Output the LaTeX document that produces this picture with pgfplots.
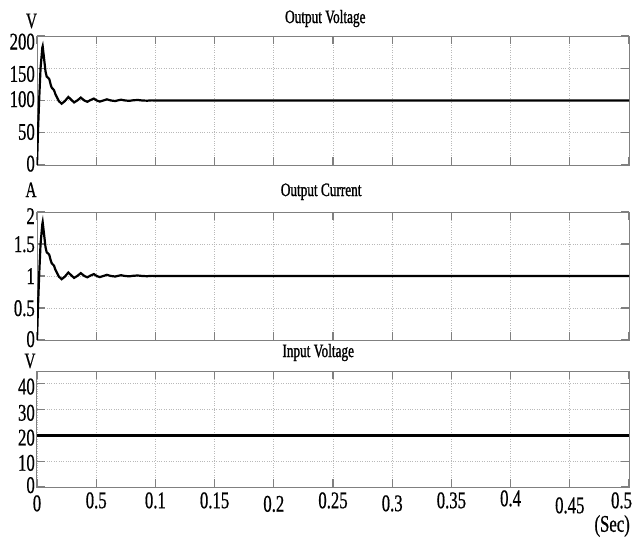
\documentclass[border=0pt]{standalone}
\usepackage{pgfplots}
\pgfplotsset{compat=1.18}
\usepackage{fontspec}
\setmainfont{Liberation Serif}[FakeStretch=0.7, FakeBold=0.6]
\newfontfamily\ttlfont{Liberation Serif}[FakeStretch=0.7, FakeBold=1.2]
\newcommand{\tk}{\fontsize{24}{24}\selectfont}
\newcommand{\ttl}{\ttlfont\fontsize{19}{19}\selectfont}
\newcommand{\unit}{\fontsize{22}{22}\selectfont}
\newcommand{\xl}[2]{\raisebox{#1}[16bp][0pt]{#2}}
\pgfplotsset{
  myax/.style={
    scale only axis, width=592bp, anchor=north west,
    xmin=0, xmax=0.5,
    xtick={0,0.05,0.1,0.15,0.2,0.25,0.3,0.35,0.4,0.45,0.5},
    /pgf/number format/assume math mode=true,
    tick label style={font=\tk, inner sep=0pt},
    yticklabel style={anchor=east, xshift=-2bp},
    xticklabel style={anchor=north, yshift=-5bp},
    axis line style={gray, line width=1bp},
    tick style={gray, line width=1.2bp},
    major tick length=8bp,
    grid=major,
    major grid style={dotted, gray!55, line width=0.9bp},
    clip mode=individual,
    title style={font=\ttl, anchor=base, inner sep=0pt},
  }
}
\begin{document}
\begin{tikzpicture}
\useasboundingbox (-37bp,36bp) rectangle (596bp,-503bp);
% ---------- Output Voltage ----------
\begin{axis}[myax, at={(0,0)}, height=129bp,
  ymin=0, ymax=200, ytick={0,50,100,150,200},
  yticklabels={\xl{1.5bp}{0},\xl{1bp}{50},\xl{1.5bp}{100},\xl{-5.5bp}{150},\xl{-5.5bp}{200}},
  xticklabels={},
  title={Output Voltage}, title style={at={(0.487,1)}, yshift=7bp}]
\addplot[black, line width=2.2bp] coordinates {
(0,0) (0.0008,50) (0.0018,100) (0.003,150) (0.0045,182) (0.0048,184)
(0.0058,168) (0.0072,145) (0.0082,137) (0.0095,135) (0.0104,133)
(0.0115,125) (0.0124,120) (0.0134,118) (0.0144,116) (0.0155,110)
(0.0166,106) (0.0185,99) (0.0208,95) (0.0235,99) (0.0265,105.5)
(0.029,101) (0.0313,97) (0.034,100) (0.037,104.5) (0.040,100)
(0.0425,98) (0.045,100.5) (0.048,103) (0.0505,100) (0.053,98.3)
(0.056,100) (0.059,101.8) (0.0625,100) (0.066,99.2) (0.0685,100.3)
(0.071,101.2) (0.0745,100) (0.078,99.5) (0.081,100.3) (0.085,100.8)
(0.089,100) (0.093,99.7) (0.097,100.2) (0.1,100) (0.5,100)};
\node[font=\unit, anchor=base] at (rel axis cs:0,1) [xshift=-5.5bp, yshift=8bp] {V};
\end{axis}
% ---------- Output Current ----------
\begin{axis}[myax, at={(0,-176bp)}, height=128bp,
  ymin=0, ymax=2, ytick={0,0.5,1,1.5,2},
  yticklabels={\xl{1bp}{0},\xl{0bp}{0.5},\xl{0bp}{1},\xl{0bp}{1.5},\xl{-4bp}{2}},
  xticklabels={},
  title={Output Current}, title style={at={(0.48,1)}, yshift=10bp}]
\addplot[black, line width=2.2bp] coordinates {
(0,0) (0.0008,0.5) (0.0018,1.0) (0.003,1.5) (0.0045,1.81) (0.0048,1.84)
(0.0058,1.68) (0.0072,1.45) (0.0082,1.37) (0.0095,1.35) (0.0104,1.33)
(0.0115,1.25) (0.0124,1.20) (0.0134,1.18) (0.0144,1.16) (0.0155,1.10)
(0.0166,1.06) (0.0185,0.99) (0.0208,0.95) (0.0235,0.99) (0.0265,1.055)
(0.029,1.01) (0.0313,0.97) (0.034,1.00) (0.037,1.045) (0.040,1.00)
(0.0425,0.98) (0.045,1.005) (0.048,1.03) (0.0505,1.00) (0.053,0.983)
(0.056,1.00) (0.059,1.018) (0.0625,1.00) (0.066,0.992) (0.0685,1.003)
(0.071,1.012) (0.0745,1.00) (0.078,0.995) (0.081,1.003) (0.085,1.008)
(0.089,1.00) (0.093,0.997) (0.097,1.002) (0.1,1.0) (0.5,1.0)};
\node[font=\unit, anchor=base] at (rel axis cs:0,1) [xshift=-6bp, yshift=15bp] {A};
\end{axis}
% ---------- Input Voltage ----------
\begin{axis}[myax, at={(0,-335bp)}, height=116bp,
  ymin=0, ymax=45, ytick={0,10,20,30,40},
  yticklabels={\xl{2bp}{0},\xl{-1.5bp}{10},\xl{-2bp}{20},\xl{-3bp}{30},\xl{-2.5bp}{40}},
  xticklabels={\xl{-3bp}{0},\xl{0bp}{0.5},\xl{0bp}{0.1},\xl{0bp}{0.15},\xl{-3.5bp}{0.2},\xl{0bp}{0.25},\xl{-3bp}{0.3},\xl{0bp}{0.35},\xl{2bp}{0.4},\xl{-5bp}{0.45},\xl{0bp}{\makebox[6bp][r]{0.5}}},
  title={Input Voltage}, title style={at={(0.475,1)}, yshift=8bp}]
\addplot[black, line width=2.4bp] coordinates {(0,20) (0.5,20)};
\node[font=\unit, anchor=base] at (rel axis cs:0,1) [xshift=-7bp, yshift=3bp] {V};
\node[font=\tk, anchor=east, inner sep=0pt] at (rel axis cs:1,0) [xshift=1bp, yshift=-39bp] {(Sec)};
\end{axis}
\end{tikzpicture}
\end{document}
